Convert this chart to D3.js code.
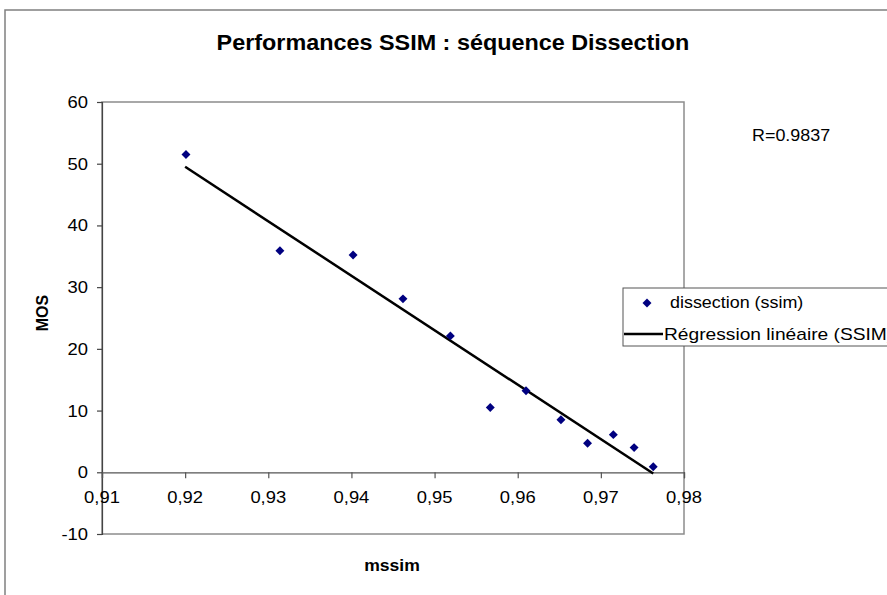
<!DOCTYPE html>
<html><head><meta charset="utf-8">
<script src="https://cdn.jsdelivr.net/npm/d3@7"></script>
<style>body{margin:0;background:#fff;} svg{display:block;font-family:"Liberation Sans",Arial,sans-serif;}</style>
</head><body>
<svg id="c" width="887" height="595"></svg>
<script>
const mssim = [0.9201,0.9314,0.9402,0.9462,0.9519,0.9567,0.9610,0.9652,0.9684,0.9715,0.9740,0.9763];
const mos   = [51.5,35.9,35.2,28.1,22.1,10.5,13.2,8.5,4.7,6.1,4.0,0.9];
const regX = [0.9200,0.9763];
const regY = [49.5,-0.2];
const xTicks = [0.91,0.92,0.93,0.94,0.95,0.96,0.97,0.98];
const yTicks = [-10,0,10,20,30,40,50,60];
const titleText = "Performances SSIM : séquence Dissection";
const xLabel = "mssim", yLabel = "MOS";
const seriesName = "dissection (ssim)", regName = "Régression linéaire (SSIM)";
const rText = "R=0.9837";

const svg = d3.select("#c");
const x = d3.scaleLinear().domain([0.91,0.98]).range([102,684]);
const y = d3.scaleLinear().domain([-10,60]).range([534,102]);

// outer border
svg.append("rect").attr("x",5).attr("y",10).attr("width",900).attr("height",600)
  .attr("fill","#fff").attr("stroke","#808080").attr("stroke-width",1.5);

// plot area
svg.append("rect").attr("x",x(0.91)).attr("y",y(60)).attr("width",x(0.98)-x(0.91)).attr("height",y(-10)-y(60))
  .attr("fill","#fff").attr("stroke","#8c8c8c").attr("stroke-width",1.5);

function txt(xp, yp, s, opts={}) {
  const sx = opts.sx || 1.15;
  const g = svg.append("g").attr("transform", `translate(${xp},${yp}) scale(${sx},1)` + (opts.rot?` rotate(${opts.rot})`:""));
  return g.append("text").text(s)
    .attr("font-size", opts.size||16)
    .attr("font-weight", opts.bold?"bold":"normal")
    .attr("text-anchor", opts.anchor||"start")
    .attr("fill", "#000");
}

// y axis
const yAxis = d3.axisLeft(y).tickValues(yTicks).tickSize(5).tickFormat("");
const gy = svg.append("g").attr("transform",`translate(${x(0.91)},0)`).call(yAxis);
gy.selectAll("path,line").attr("stroke","#444").attr("stroke-width",1.2);
yTicks.forEach(v => txt(88, y(v)+6, String(v), {anchor:"end"}));

// x axis at y=0
const xAxis = d3.axisBottom(x).tickValues(xTicks).tickSize(6).tickFormat("");
const gx = svg.append("g").attr("transform",`translate(0,${y(0)})`).call(xAxis);
gx.selectAll("path,line").attr("stroke","#555").attr("stroke-width",1.2);
xTicks.forEach(v => txt(x(v), 503, d3.format(".2f")(v).replace(".",","), {anchor:"middle"}));

// regression line
svg.append("line").attr("x1",x(regX[0])).attr("y1",y(regY[0])).attr("x2",x(regX[1])).attr("y2",y(regY[1]))
  .attr("stroke","#000").attr("stroke-width",2.5);

// points
const sym = d3.symbol().type(d3.symbolSquare).size(40);
svg.append("g").selectAll("path").data(mssim.map((v,i)=>[v,mos[i]])).join("path")
  .attr("d", sym).attr("fill","#000080")
  .attr("transform", d=>`translate(${x(d[0])},${y(d[1])}) rotate(45)`);

// title & labels
txt(453, 50, titleText, {bold:true, size:22, sx:1.063, anchor:"middle"});
txt(392, 571, xLabel, {bold:true, size:16, sx:1.1, anchor:"middle"});
txt(48, 313, yLabel, {bold:true, size:16, sx:1.0, anchor:"middle", rot:-90});
txt(752, 141, rText, {size:16, sx:1.12});

// legend
svg.append("rect").attr("x",623).attr("y",288).attr("width",300).attr("height",58)
  .attr("fill","#fff").attr("stroke","#555").attr("stroke-width",1);
svg.append("path").attr("d",sym).attr("fill","#000080").attr("transform","translate(647,303) rotate(45)");
txt(670, 308, seriesName, {size:16, sx:1.12});
svg.append("line").attr("x1",624).attr("x2",663).attr("y1",334).attr("y2",334).attr("stroke","#000").attr("stroke-width",2.5);
txt(664, 340, regName, {size:16, sx:1.2});
</script>
</body></html>
